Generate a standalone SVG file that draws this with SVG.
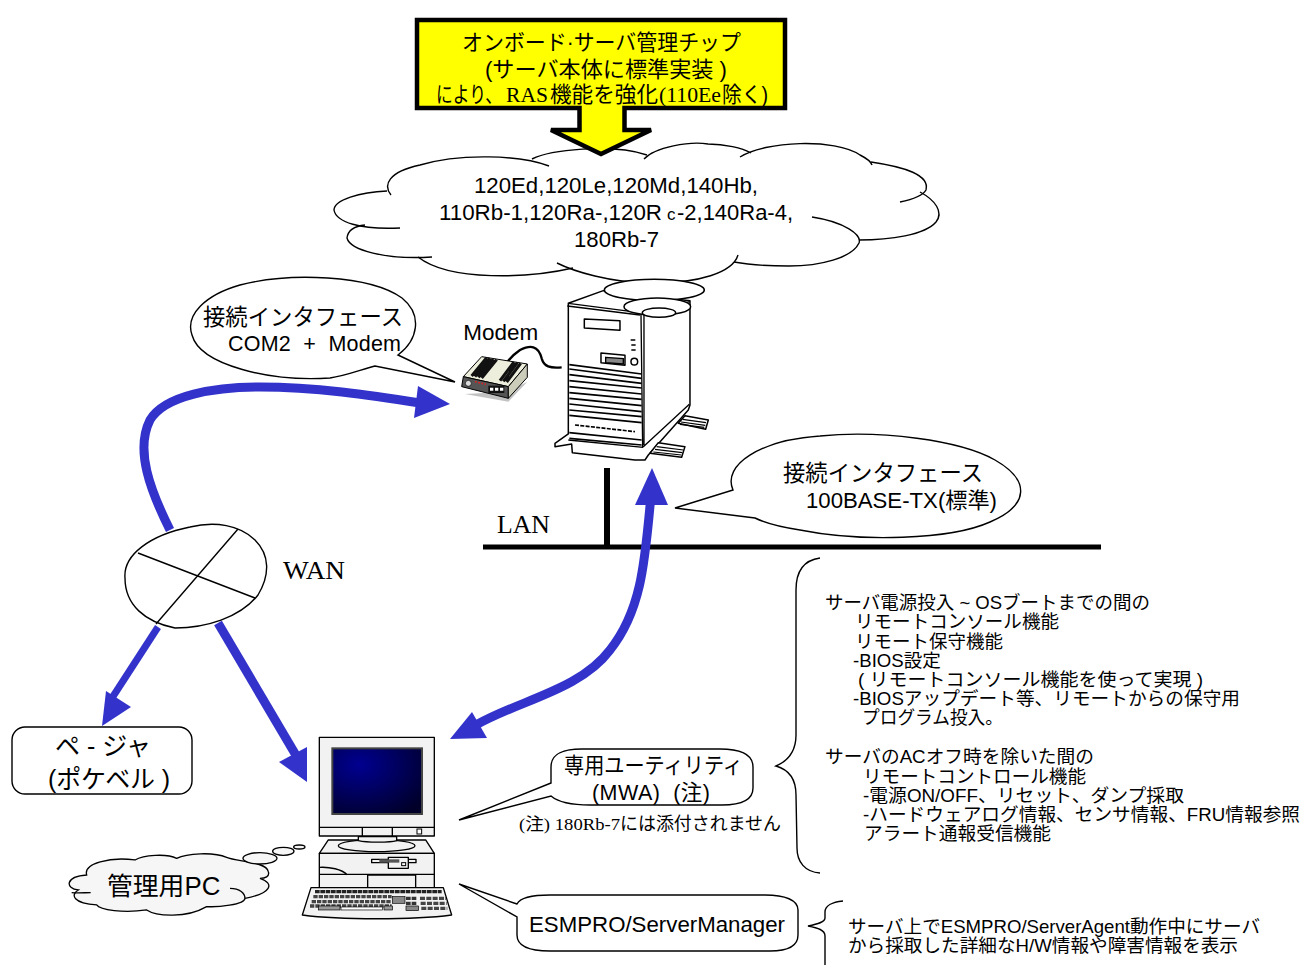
<svg xmlns="http://www.w3.org/2000/svg" width="1302" height="965" viewBox="0 0 1302 965">
<style>
text{font-family:"Liberation Sans","Noto Sans CJK JP",sans-serif;fill:#000;white-space:pre}
.se{font-family:"Liberation Serif","Noto Sans CJK JP",serif}
.m{font-size:21.5px}.s{font-size:18.5px}.n{font-size:18px}
.o{fill:#fff;stroke:#000;stroke-width:1.4}
.l{fill:none;stroke:#000;stroke-width:1.4}
.b{fill:none;stroke:#3333cc}
.h{fill:#3333cc}
.z{fill:none;stroke:#000;stroke-width:4}
.w{fill:#fff;stroke:#000;stroke-width:4.5;stroke-linejoin:round}
.g{fill:#f2f2f2;stroke:#000;stroke-width:4;stroke-linejoin:round}
</style>
<defs>
<radialGradient id="scr" cx="0.3" cy="0.25" r="0.9"><stop offset="0" stop-color="#000090"/><stop offset="1" stop-color="#000028"/></radialGradient>
</defs>

<g id="main-cloud">
<path d="M391,195 C380,182 400,167 442,160 C470,155 510,157 532,159 C550,150 610,143 647,155 C655,147 690,141 740,155 C765,141 835,140 871,162 C905,167 930,175 926,190 L920,192 C935,200 944,212 936,222 C925,235 890,240 859,240 C860,248 850,258 815,264 C790,268 755,266 734,262 C725,278 690,285 647,283 C610,282 580,272 570,266 C530,278 450,280 418,257 C380,260 345,250 347,238 C348,230 355,227 365,225 C345,228 334,220 334,210 C334,200 360,192 391,191 Z" style="fill:#fff;stroke:none"/>
<path class="l" d="M391,195 C383,185 388,172 420,165 C460,153 520,155 549,166"/>
<path class="l" d="M532,159 C550,150 610,143 647,155"/>
<path class="l" d="M644,159 C655,147 690,141 708,144 C725,144 742,148 751,153"/>
<path class="l" d="M740,157 C765,141 835,138 860,155 C866,158 871,162 872,165"/>
<path class="l" d="M871,162 C905,167 930,175 926,190 C922,197 910,200 900,202"/>
<path class="l" d="M920,192 C935,200 944,212 936,222 C925,235 890,240 859,240"/>
<path class="l" d="M812,217 C845,222 862,235 859,243 C852,258 820,266 789,266 C765,266 750,265 734,262"/>
<path class="l" d="M738,255 C733,272 700,284 647,283 C610,282 575,272 557,263"/>
<path class="l" d="M573,268 C530,278 450,282 418,257"/>
<path class="l" d="M432,257 C385,260 350,250 347,238 C348,230 355,226 365,225"/>
<path class="l" d="M400,228 C360,230 336,222 334,210 C334,200 360,192 387,191"/>
<text class="m" x="474" y="193" textLength="284" lengthAdjust="spacingAndGlyphs">120Ed,120Le,120Md,140Hb,</text>
<text class="m" x="439" y="220" textLength="223" lengthAdjust="spacingAndGlyphs">110Rb-1,120Ra-,120R</text>
<text x="667" y="220" style="font-size:17px">c</text>
<text class="m" x="677" y="220" textLength="116" lengthAdjust="spacingAndGlyphs">-2,140Ra-4,</text>
<text class="m" x="574" y="247" textLength="85" lengthAdjust="spacingAndGlyphs">180Rb-7</text>
</g>

<g id="chip-callout">
<path d="M417,20 H785 V108 H624.500 V130 H651 L601,154 L551,130 H579.500 V108 H417 Z" fill="#ffff00" stroke="#000" stroke-width="4.500" stroke-linejoin="miter"/>
<text class="m" x="462" y="50" textLength="279" lengthAdjust="spacingAndGlyphs">オンボード·サーバ管理チップ</text>
<text class="m" x="485" y="77" textLength="242" lengthAdjust="spacingAndGlyphs">(サーバ本体に標準実装 )</text>
<text class="m" x="436" y="102" textLength="66" lengthAdjust="spacingAndGlyphs">により、</text>
<text class="m se" x="506" y="102" textLength="42" lengthAdjust="spacingAndGlyphs">RAS</text>
<text class="m" x="550" y="102" textLength="108" lengthAdjust="spacingAndGlyphs">機能を強化</text>
<text class="m se" x="659" y="102" textLength="62" lengthAdjust="spacingAndGlyphs">(110Ee</text>
<text class="m" x="722" y="102" textLength="46" lengthAdjust="spacingAndGlyphs">除く)</text>
</g>

<g id="connectors">
<path d="M483,547 H1101" stroke="#000" stroke-width="5" fill="none"/>
<path d="M607,468 V547" stroke="#000" stroke-width="6" fill="none"/>
<path class="b" stroke-width="9" d="M170,530 C150,490 135,450 150,420 C165,395 215,387 260,387 C315,387 370,395 420,403"/>
<polygon class="h" points="450,404 418,386 414,418"/>
<path class="b" stroke-width="9" d="M651,495 C645,560 642,610 610,650 C580,690 520,700 476,725"/>
<polygon class="h" points="652,468 635,505 668,505"/>
<polygon class="h" points="450,739 472,712 487,738"/>
<path class="b" stroke-width="7" d="M158,627 L112,698"/>
<polygon class="h" points="102,726 106,691 131,707"/>
<path class="b" stroke-width="9" d="M218,623 L297,757"/>
<polygon class="h" points="307,782 279,762 307,747"/>
</g>

<g id="wan">
<path class="o" d="M125,578 C123,555 150,535 190,527 C215,521 240,525 255,540 C270,555 270,575 258,595 C240,618 205,628 175,628 C145,622 125,605 125,578 Z"/>
<path class="l" d="M138,553 L255,598 M238,529 L156,624"/>
<text class="se" x="283" y="579" style="font-size:25px" textLength="62" lengthAdjust="spacingAndGlyphs">WAN</text>
</g>

<g id="lan-label"><text class="se" x="497" y="533" style="font-size:25px" textLength="53" lengthAdjust="spacingAndGlyphs">LAN</text></g>

<g id="server" transform="translate(440,270) scale(0.3333)">
<path class="w" d="M345,520 L385,492 L385,100 L490,62 L750,92 L750,405 L745,420 L625,555 L615,570 L585,570 L397,548 L395,522 L345,530 Z"/>
<path class="z" d="M385,100 L600,128 L750,95 M382,108 L600,135 M603,130 L608,530 M612,132 L612,525 M610,530 L748,403 M385,510 L610,532"/>
<path d="M388,284 L605,312 M388,297 L605,325 M388,314 L605,340 M388,332 L605,354 M388,350 L605,372 M388,368 L605,388 M388,385 L605,407 M388,402 L605,425 M388,420 L605,440 M388,436 L605,458 M388,488 L605,510 M388,505 L605,525" fill="none" stroke="#000" stroke-width="5"/>
<path d="M405,465 L585,485" fill="none" stroke="#000" stroke-width="5" stroke-dasharray="12 4"/>
<polygon class="w" points="433,147 540,152 540,181 433,174"/>
<path class="w" d="M483,249 L555,256 V286 L483,278 Z"/>
<path d="M497,262 L550,266 V282 L497,278 Z" fill="#888" stroke="#000" stroke-width="4"/>
<circle class="w" cx="583" cy="275" r="10"/>
<path d="M572,210 H586 M574,225 H587 M574,240 H587" stroke="#000" stroke-width="5"/>
<path class="w" d="M715,460 L735,437 L805,450 L797,478 Z"/>
<path d="M728,448 L798,458 M723,456 L796,466 M720,463 L793,472" stroke="#000" stroke-width="3.500"/>
<path class="w" d="M630,550 L655,518 L735,530 L725,562 Z"/>
<path d="M650,530 L730,540 M645,538 L727,548 M640,546 L724,555" stroke="#000" stroke-width="3.500"/>
<ellipse class="w" cx="643" cy="60" rx="150" ry="32"/>
<ellipse class="w" cx="652" cy="110" rx="100" ry="26"/>
<ellipse class="w" cx="657" cy="128" rx="50" ry="14"/>
</g>

<g id="modem" transform="translate(440,270) scale(0.3333)">
<path d="M365,292 C330,295 312,290 305,265 C295,225 270,225 240,240 C225,250 210,265 200,278" fill="none" stroke="#000" stroke-width="7"/>
<polygon points="75,372 205,395 262,335 205,365" fill="#999" opacity="0.6"/>
<polygon points="70,320 125,260 262,282 205,350" fill="#eeeedd" stroke="#000" stroke-width="3"/>
<path d="M95,318 L140,263 M105,320 L150,265 M115,322 L160,267 M125,324 L170,269 M180,332 L222,276 M190,334 L232,278 M200,336 L242,280" stroke="#111" stroke-width="9"/>
<polygon points="70,320 205,350 205,385 65,350" fill="#555" stroke="#000" stroke-width="3"/>
<polygon points="205,350 262,282 262,322 205,385" fill="#ccccbb" stroke="#000" stroke-width="3"/>
<circle cx="85" cy="340" r="9" fill="#ddd" stroke="#000" stroke-width="2"/>
<path d="M105,335 L138,343" stroke="#e02020" stroke-width="5" stroke-dasharray="5 5"/>
<rect x="145" y="347" width="48" height="22" fill="#111"/>
<path d="M150,358 H190" stroke="#fff" stroke-width="9" stroke-dasharray="10 5"/>
<text x="70" y="210" style="font-size:65px" textLength="225" lengthAdjust="spacingAndGlyphs">Modem</text>
</g>

<g id="modem-bubble">
<path class="o" d="M398,355 C418,340 423,315 402,298 C370,275 290,272 240,285 C205,295 185,315 192,335 C200,365 270,382 330,378 C345,376 360,370 375,366 L455,382 Z"/>
<text x="203" y="325" style="font-size:22.500px" textLength="200" lengthAdjust="spacingAndGlyphs">接続インタフェース</text>
<text class="m" x="228" y="351" textLength="173" lengthAdjust="spacing">COM2  +  Modem</text>
</g>

<g id="lan-bubble">
<path class="o" d="M733,490 C722,465 760,440 820,436 C880,430 960,440 995,460 C1030,480 1030,505 990,522 C950,540 860,542 800,530 C780,527 765,523 755,518 L675,508 Z"/>
<text x="783" y="481" style="font-size:22.500px" textLength="200" lengthAdjust="spacingAndGlyphs">接続インタフェース</text>
<text class="m" x="806" y="508" textLength="191" lengthAdjust="spacingAndGlyphs">100BASE-TX(標準)</text>
</g>

<g id="pager">
<rect x="12" y="727" width="180" height="67" rx="13" fill="#fff" stroke="#000" stroke-width="1.400"/>
<text x="55" y="755" style="font-size:25px" textLength="96" lengthAdjust="spacing">ペ - ジャ</text>
<text x="48" y="788" style="font-size:25px" textLength="122" lengthAdjust="spacing">(ポケベル )</text>
</g>

<g id="pc" transform="translate(280,720) scale(0.3333)">
<polygon class="g" points="145,360 118,400 463,400 437,360"/>
<rect class="g" x="118" y="400" width="345" height="103"/>
<path class="z" d="M118,442 C150,440 185,448 202,464 M118,463 H463"/>
<rect class="g" x="263" y="465" width="144" height="38"/>
<rect class="g" x="275" y="418" width="133" height="10"/>
<rect class="g" x="325" y="412" width="60" height="33"/>
<rect x="365" y="428" width="12" height="9" fill="#fff" stroke="#000" stroke-width="3"/>
<rect x="298" y="418" width="60" height="10" fill="#555"/>
<ellipse class="g" cx="290" cy="377" rx="115" ry="18"/>
<path class="g" d="M235,350 H350 V362 C330,368 260,368 235,362 Z"/>
<rect class="g" x="118" y="52" width="345" height="296"/>
<path class="z" d="M118,322 H463 M247,322 V348 M337,322 V348"/>
<rect x="411" y="327" width="14" height="15" fill="#fff" stroke="#000" stroke-width="3"/>
<rect x="157" y="85" width="269" height="197" fill="url(#scr)" stroke="#444" stroke-width="6"/>
<path class="g" d="M93,503 H490 L515,585 C400,600 180,600 67,585 Z"/>
<path d="M105,515 H485" stroke="#222" stroke-width="10" stroke-dasharray="14 2" fill="none"/>
<path d="M100,530 H335 M95,545 H335 M90,558 H335" stroke="#444" stroke-width="10" stroke-dasharray="13 3" fill="none"/>
<rect x="337" y="530" width="38" height="20" fill="#888" stroke="#000" stroke-width="2"/>
<path d="M378,535 H412 M378,550 H412" stroke="#333" stroke-width="10" stroke-dasharray="14 3" fill="none"/>
<rect x="378" y="558" width="38" height="14" fill="#888" stroke="#000" stroke-width="2"/>
<path d="M420,535 H498 M422,550 H500 M424,565 H502" stroke="#444" stroke-width="10" stroke-dasharray="15 4" fill="none"/>
<rect x="115" y="558" width="65" height="12" fill="#999" stroke="#000" stroke-width="2"/>
<rect x="183" y="561" width="125" height="9" fill="#fff" stroke="#000" stroke-width="2"/>
<rect x="312" y="558" width="26" height="12" fill="#999" stroke="#000" stroke-width="2"/>
</g>

<g id="pc-cloud" transform="translate(0,500) scale(0.3333)">
<path d="M260,1125 C250,1090 330,1070 405,1080 C430,1065 500,1060 530,1075 C560,1060 640,1055 680,1072 C710,1085 800,1085 805,1115 C810,1130 795,1135 780,1135 C825,1150 815,1180 735,1195 C735,1215 650,1222 620,1220 C560,1255 470,1250 440,1230 C370,1240 300,1230 290,1215 C220,1210 210,1185 235,1170 C195,1165 195,1130 260,1125 Z" fill="#f6f6f6" stroke="#000" stroke-width="4"/>
<path d="M690,1165 C720,1165 735,1180 735,1195 M215,1178 C235,1180 255,1178 272,1178" fill="none" stroke="#000" stroke-width="4"/>
<ellipse cx="780" cy="1075" rx="51" ry="17" fill="#f6f6f6" stroke="#000" stroke-width="4"/>
<ellipse cx="850" cy="1054" rx="32" ry="12" fill="#f6f6f6" stroke="#000" stroke-width="4"/>
<ellipse cx="898" cy="1041" rx="17" ry="6" fill="#f6f6f6" stroke="#000" stroke-width="4"/>
<text x="321" y="1185" style="font-size:75px" textLength="340" lengthAdjust="spacingAndGlyphs">管理用PC</text>
</g>

<g id="mwa-callout">
<path class="o" d="M551,783 L459,820 L551,796 C558,802 570,805 590,805 L722,805 C745,805 753,798 753,788 L753,767 C753,755 742,749 720,749 L582,749 C560,749 551,755 551,767 Z"/>
<text x="564" y="773" style="font-size:22px" textLength="179" lengthAdjust="spacingAndGlyphs">専用ユーティリティ</text>
<text class="m" x="592" y="800" textLength="118" lengthAdjust="spacing">(MWA)  (注)</text>
<text class="se" x="519" y="830" style="font-size:17.500px" textLength="101" lengthAdjust="spacingAndGlyphs">(注) 180Rb-7</text>
<text class="n" x="620" y="830" textLength="161" lengthAdjust="spacingAndGlyphs">には添付されません</text>
</g>

<g id="esm-callout">
<path class="o" d="M517,904 L459,884 L517,917 L517,935 C517,946 530,951 550,951 L770,951 C790,951 798,945 798,935 L798,910 C798,900 785,895 765,895 L550,895 C530,895 520,898 517,904 Z"/>
<text class="m" x="529" y="932" textLength="256" lengthAdjust="spacingAndGlyphs">ESMPRO/ServerManager</text>
</g>

<g id="remote-notes">
<path class="l" d="M820,558 C805,560 796,570 796,590 L796,735 C796,750 790,760 776,766 C790,770 796,780 796,795 L797,848 C797,862 805,872 820,873"/>
<text class="s" x="825" y="609" textLength="325" lengthAdjust="spacingAndGlyphs">サーバ電源投入 ~ OSブートまでの間の</text>
<text class="s" x="855" y="628" textLength="204" lengthAdjust="spacingAndGlyphs">リモートコンソール機能</text>
<text class="s" x="855" y="648" textLength="148" lengthAdjust="spacingAndGlyphs">リモート保守機能</text>
<text class="s" x="853" y="667" textLength="88" lengthAdjust="spacingAndGlyphs">-BIOS設定</text>
<text class="s" x="858" y="686" textLength="345" lengthAdjust="spacingAndGlyphs">( リモートコンソール機能を使って実現 )</text>
<text class="s" x="853" y="705" textLength="387" lengthAdjust="spacingAndGlyphs">-BIOSアップデート等、リモートからの保守用</text>
<text class="s" x="862" y="724" textLength="141" lengthAdjust="spacingAndGlyphs">プログラム投入。</text>
<text class="s" x="825" y="763" textLength="269" lengthAdjust="spacingAndGlyphs">サーバのACオフ時を除いた間の</text>
<text class="s" x="863" y="783" textLength="223" lengthAdjust="spacingAndGlyphs">リモートコントロール機能</text>
<text class="s" x="863" y="802" textLength="321" lengthAdjust="spacingAndGlyphs">-電源ON/OFF、リセット、ダンプ採取</text>
<text class="s" x="863" y="821" textLength="437" lengthAdjust="spacingAndGlyphs">-ハードウェアログ情報、センサ情報、FRU情報参照</text>
<text class="s" x="864" y="840" textLength="187" lengthAdjust="spacingAndGlyphs">アラート通報受信機能</text>
</g>

<g id="esm-notes">
<path class="l" d="M843,901 C832,902 825,906 825,912 L825,918 C825,922 818,924 808,926 C818,928 825,930 825,936 L825,965"/>
<text class="s" x="848" y="933" textLength="412" lengthAdjust="spacingAndGlyphs">サーバ上でESMPRO/ServerAgent動作中にサーバ</text>
<text class="s" x="848" y="952" textLength="390" lengthAdjust="spacingAndGlyphs">から採取した詳細なH/W情報や障害情報を表示</text>
</g>
</svg>
